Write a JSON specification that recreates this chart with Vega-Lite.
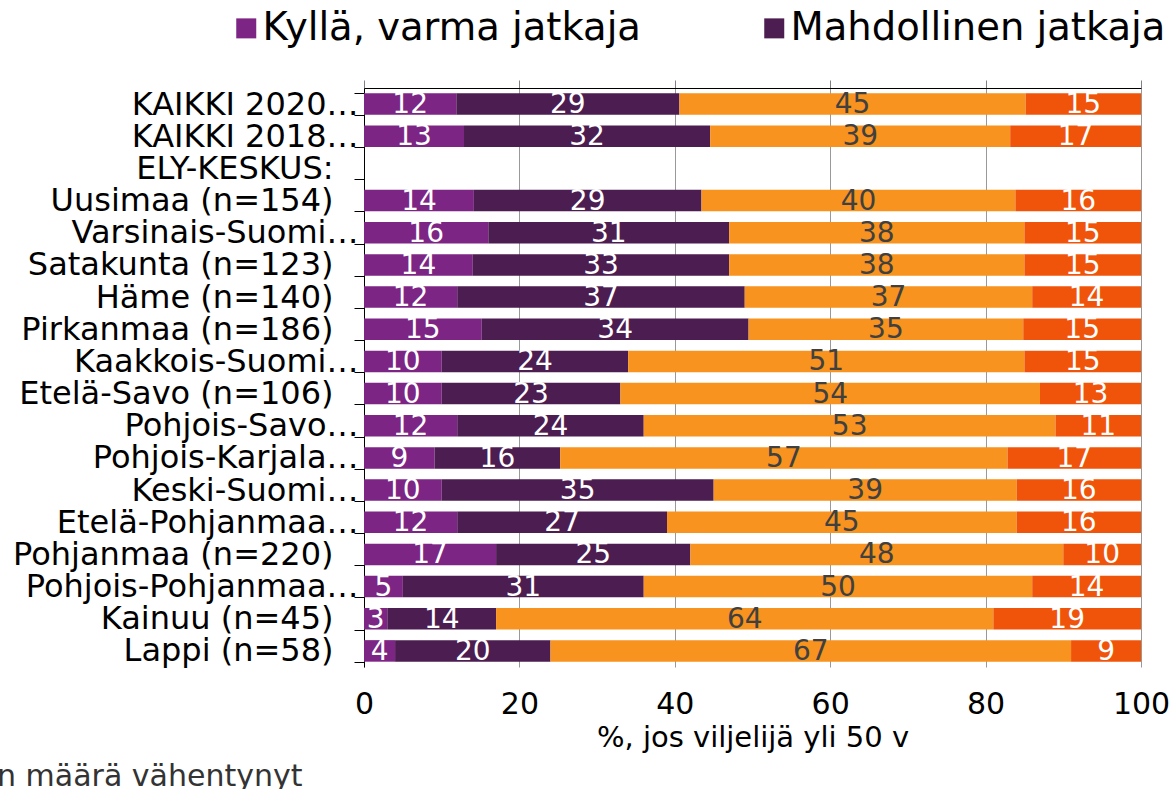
{
  "$schema": "https://vega.github.io/schema/vega-lite/v6.json",
  "width": 777,
  "height": 579,
  "autosize": {"type": "none"},
  "padding": {"left": 364, "top": 88, "right": 31, "bottom": 122},
  "background": "white",
  "config": {"font": "DejaVu Sans", "view": {"stroke": null}},
  "title": {
    "text": "n määrä vähentynyt",
    "orient": "bottom",
    "anchor": "start",
    "frame": "group",
    "dx": -367,
    "offset": 10,
    "fontSize": 30,
    "fontWeight": "normal",
    "color": "#333333"
  },
  "datasets": {
    "cats": [
      {"luokka": "Kyllä, varma jatkaja", "jarjestys": 1},
      {"luokka": "Mahdollinen jatkaja", "jarjestys": 2},
      {"luokka": "Ei jatkajaa", "jarjestys": 3},
      {"luokka": "Ei osaa sanoa", "jarjestys": 4}
    ]
  },
  "data": {
    "values": [
      {"alue": "KAIKKI 2020…", "luokka": "Kyllä, varma jatkaja", "osuus": 12},
      {"alue": "KAIKKI 2020…", "luokka": "Mahdollinen jatkaja", "osuus": 29},
      {"alue": "KAIKKI 2020…", "luokka": "Ei jatkajaa", "osuus": 45},
      {"alue": "KAIKKI 2020…", "luokka": "Ei osaa sanoa", "osuus": 15},
      {"alue": "KAIKKI 2018…", "luokka": "Kyllä, varma jatkaja", "osuus": 13},
      {"alue": "KAIKKI 2018…", "luokka": "Mahdollinen jatkaja", "osuus": 32},
      {"alue": "KAIKKI 2018…", "luokka": "Ei jatkajaa", "osuus": 39},
      {"alue": "KAIKKI 2018…", "luokka": "Ei osaa sanoa", "osuus": 17},
      {"alue": "Uusimaa (n=154)", "luokka": "Kyllä, varma jatkaja", "osuus": 14},
      {"alue": "Uusimaa (n=154)", "luokka": "Mahdollinen jatkaja", "osuus": 29},
      {"alue": "Uusimaa (n=154)", "luokka": "Ei jatkajaa", "osuus": 40},
      {"alue": "Uusimaa (n=154)", "luokka": "Ei osaa sanoa", "osuus": 16},
      {"alue": "Varsinais-Suomi…", "luokka": "Kyllä, varma jatkaja", "osuus": 16},
      {"alue": "Varsinais-Suomi…", "luokka": "Mahdollinen jatkaja", "osuus": 31},
      {"alue": "Varsinais-Suomi…", "luokka": "Ei jatkajaa", "osuus": 38},
      {"alue": "Varsinais-Suomi…", "luokka": "Ei osaa sanoa", "osuus": 15},
      {"alue": "Satakunta (n=123)", "luokka": "Kyllä, varma jatkaja", "osuus": 14},
      {"alue": "Satakunta (n=123)", "luokka": "Mahdollinen jatkaja", "osuus": 33},
      {"alue": "Satakunta (n=123)", "luokka": "Ei jatkajaa", "osuus": 38},
      {"alue": "Satakunta (n=123)", "luokka": "Ei osaa sanoa", "osuus": 15},
      {"alue": "Häme (n=140)", "luokka": "Kyllä, varma jatkaja", "osuus": 12},
      {"alue": "Häme (n=140)", "luokka": "Mahdollinen jatkaja", "osuus": 37},
      {"alue": "Häme (n=140)", "luokka": "Ei jatkajaa", "osuus": 37},
      {"alue": "Häme (n=140)", "luokka": "Ei osaa sanoa", "osuus": 14},
      {"alue": "Pirkanmaa (n=186)", "luokka": "Kyllä, varma jatkaja", "osuus": 15},
      {"alue": "Pirkanmaa (n=186)", "luokka": "Mahdollinen jatkaja", "osuus": 34},
      {"alue": "Pirkanmaa (n=186)", "luokka": "Ei jatkajaa", "osuus": 35},
      {"alue": "Pirkanmaa (n=186)", "luokka": "Ei osaa sanoa", "osuus": 15},
      {"alue": "Kaakkois-Suomi…", "luokka": "Kyllä, varma jatkaja", "osuus": 10},
      {"alue": "Kaakkois-Suomi…", "luokka": "Mahdollinen jatkaja", "osuus": 24},
      {"alue": "Kaakkois-Suomi…", "luokka": "Ei jatkajaa", "osuus": 51},
      {"alue": "Kaakkois-Suomi…", "luokka": "Ei osaa sanoa", "osuus": 15},
      {"alue": "Etelä-Savo (n=106)", "luokka": "Kyllä, varma jatkaja", "osuus": 10},
      {"alue": "Etelä-Savo (n=106)", "luokka": "Mahdollinen jatkaja", "osuus": 23},
      {"alue": "Etelä-Savo (n=106)", "luokka": "Ei jatkajaa", "osuus": 54},
      {"alue": "Etelä-Savo (n=106)", "luokka": "Ei osaa sanoa", "osuus": 13},
      {"alue": "Pohjois-Savo…", "luokka": "Kyllä, varma jatkaja", "osuus": 12},
      {"alue": "Pohjois-Savo…", "luokka": "Mahdollinen jatkaja", "osuus": 24},
      {"alue": "Pohjois-Savo…", "luokka": "Ei jatkajaa", "osuus": 53},
      {"alue": "Pohjois-Savo…", "luokka": "Ei osaa sanoa", "osuus": 11},
      {"alue": "Pohjois-Karjala…", "luokka": "Kyllä, varma jatkaja", "osuus": 9},
      {"alue": "Pohjois-Karjala…", "luokka": "Mahdollinen jatkaja", "osuus": 16},
      {"alue": "Pohjois-Karjala…", "luokka": "Ei jatkajaa", "osuus": 57},
      {"alue": "Pohjois-Karjala…", "luokka": "Ei osaa sanoa", "osuus": 17},
      {"alue": "Keski-Suomi…", "luokka": "Kyllä, varma jatkaja", "osuus": 10},
      {"alue": "Keski-Suomi…", "luokka": "Mahdollinen jatkaja", "osuus": 35},
      {"alue": "Keski-Suomi…", "luokka": "Ei jatkajaa", "osuus": 39},
      {"alue": "Keski-Suomi…", "luokka": "Ei osaa sanoa", "osuus": 16},
      {"alue": "Etelä-Pohjanmaa…", "luokka": "Kyllä, varma jatkaja", "osuus": 12},
      {"alue": "Etelä-Pohjanmaa…", "luokka": "Mahdollinen jatkaja", "osuus": 27},
      {"alue": "Etelä-Pohjanmaa…", "luokka": "Ei jatkajaa", "osuus": 45},
      {"alue": "Etelä-Pohjanmaa…", "luokka": "Ei osaa sanoa", "osuus": 16},
      {"alue": "Pohjanmaa (n=220)", "luokka": "Kyllä, varma jatkaja", "osuus": 17},
      {"alue": "Pohjanmaa (n=220)", "luokka": "Mahdollinen jatkaja", "osuus": 25},
      {"alue": "Pohjanmaa (n=220)", "luokka": "Ei jatkajaa", "osuus": 48},
      {"alue": "Pohjanmaa (n=220)", "luokka": "Ei osaa sanoa", "osuus": 10},
      {"alue": "Pohjois-Pohjanmaa…", "luokka": "Kyllä, varma jatkaja", "osuus": 5},
      {"alue": "Pohjois-Pohjanmaa…", "luokka": "Mahdollinen jatkaja", "osuus": 31},
      {"alue": "Pohjois-Pohjanmaa…", "luokka": "Ei jatkajaa", "osuus": 50},
      {"alue": "Pohjois-Pohjanmaa…", "luokka": "Ei osaa sanoa", "osuus": 14},
      {"alue": "Kainuu (n=45)", "luokka": "Kyllä, varma jatkaja", "osuus": 3},
      {"alue": "Kainuu (n=45)", "luokka": "Mahdollinen jatkaja", "osuus": 14},
      {"alue": "Kainuu (n=45)", "luokka": "Ei jatkajaa", "osuus": 64},
      {"alue": "Kainuu (n=45)", "luokka": "Ei osaa sanoa", "osuus": 19},
      {"alue": "Lappi (n=58)", "luokka": "Kyllä, varma jatkaja", "osuus": 4},
      {"alue": "Lappi (n=58)", "luokka": "Mahdollinen jatkaja", "osuus": 20},
      {"alue": "Lappi (n=58)", "luokka": "Ei jatkajaa", "osuus": 67},
      {"alue": "Lappi (n=58)", "luokka": "Ei osaa sanoa", "osuus": 9}
    ]
  },
  "transform": [
    {"lookup": "luokka", "from": {"data": {"name": "cats"}, "key": "luokka", "fields": ["jarjestys"]}},
    {"stack": "osuus", "groupby": ["alue"], "sort": [{"field": "jarjestys", "order": "ascending"}], "as": ["x0", "x1"], "offset": "normalize"},
    {"calculate": "(datum.x0 + datum.x1) / 2", "as": "xm"}
  ],
  "encoding": {
    "y": {
      "field": "alue",
      "type": "nominal",
      "scale": {
        "domain": ["KAIKKI 2020…", "KAIKKI 2018…", "ELY-KESKUS:", "Uusimaa (n=154)", "Varsinais-Suomi…", "Satakunta (n=123)", "Häme (n=140)", "Pirkanmaa (n=186)", "Kaakkois-Suomi…", "Etelä-Savo (n=106)", "Pohjois-Savo…", "Pohjois-Karjala…", "Keski-Suomi…", "Etelä-Pohjanmaa…", "Pohjanmaa (n=220)", "Pohjois-Pohjanmaa…", "Kainuu (n=45)", "Lappi (n=58)"],
        "paddingInner": 0.33,
        "paddingOuter": 0.165
      },
      "axis": {
        "title": null,
        "orient": "left",
        "domain": true,
        "domainColor": "#000000",
        "domainWidth": 1,
        "ticks": true,
        "tickBand": "extent",
        "tickColor": "#000000",
        "tickSize": 10,
        "labelFontSize": 32,
        "labelColor": "#000000",
        "labelPadding": {"condition": {"test": "indexof(datum.label, '…') >= 0", "value": -4}, "value": 21},
        "labelLimit": 1000
      }
    }
  },
  "resolve": {"axis": {"x": "independent"}},
  "layer": [
    {
      "mark": {"type": "bar"},
      "encoding": {
        "x": {
          "field": "x0",
          "type": "quantitative",
          "scale": {"domain": [0, 1], "nice": false},
          "axis": {
            "orient": "bottom",
            "values": [0, 0.2, 0.4, 0.6, 0.8, 1],
            "labelExpr": "format(datum.value * 100, 'd')",
            "domain": false,
            "ticks": false,
            "grid": true,
            "gridColor": "#999999",
            "gridWidth": 1,
            "labelFontSize": 30,
            "labelColor": "#000000",
            "labelPadding": 22,
            "labelFlush": false,
            "labelOverlap": false,
            "title": "%, jos viljelijä yli 50 v",
            "titleFontSize": 29,
            "titleFontWeight": "normal",
            "titleColor": "#000000",
            "titlePadding": 4
          }
        },
        "x2": {"field": "x1"},
        "color": {
          "field": "luokka",
          "type": "nominal",
          "scale": {
            "domain": ["Kyllä, varma jatkaja", "Mahdollinen jatkaja", "Ei jatkajaa", "Ei osaa sanoa"],
            "range": ["#7D2584", "#4C1D50", "#F7931E", "#F0540A"]
          },
          "legend": {
            "values": ["Kyllä, varma jatkaja", "Mahdollinen jatkaja"],
            "orient": "none",
            "legendX": -137,
            "legendY": -79,
            "direction": "horizontal",
            "title": null,
            "symbolType": "square",
            "symbolSize": 400,
            "symbolStrokeWidth": 0,
            "labelFontSize": 38.5,
            "labelColor": "#000000",
            "labelOffset": -3,
            "labelLimit": 1000,
            "columnPadding": 114,
            "padding": 0
          }
        }
      }
    },
    {
      "mark": {"type": "text", "fontSize": 28, "baseline": "middle", "align": "center", "dy": 1},
      "encoding": {
        "x": {
          "field": "xm",
          "type": "quantitative",
          "axis": {
            "orient": "top",
            "values": [0, 0.2, 0.4, 0.6, 0.8, 1],
            "labels": false,
            "grid": false,
            "domain": true,
            "domainColor": "#000000",
            "ticks": true,
            "tickSize": 8,
            "tickColor": "#808080",
            "title": null
          }
        },
        "text": {"field": "osuus", "type": "quantitative"},
        "color": {
          "condition": {"test": "datum.luokka === 'Ei jatkajaa'", "value": "#404040"},
          "value": "#FFFFFF"
        }
      }
    }
  ]
}
